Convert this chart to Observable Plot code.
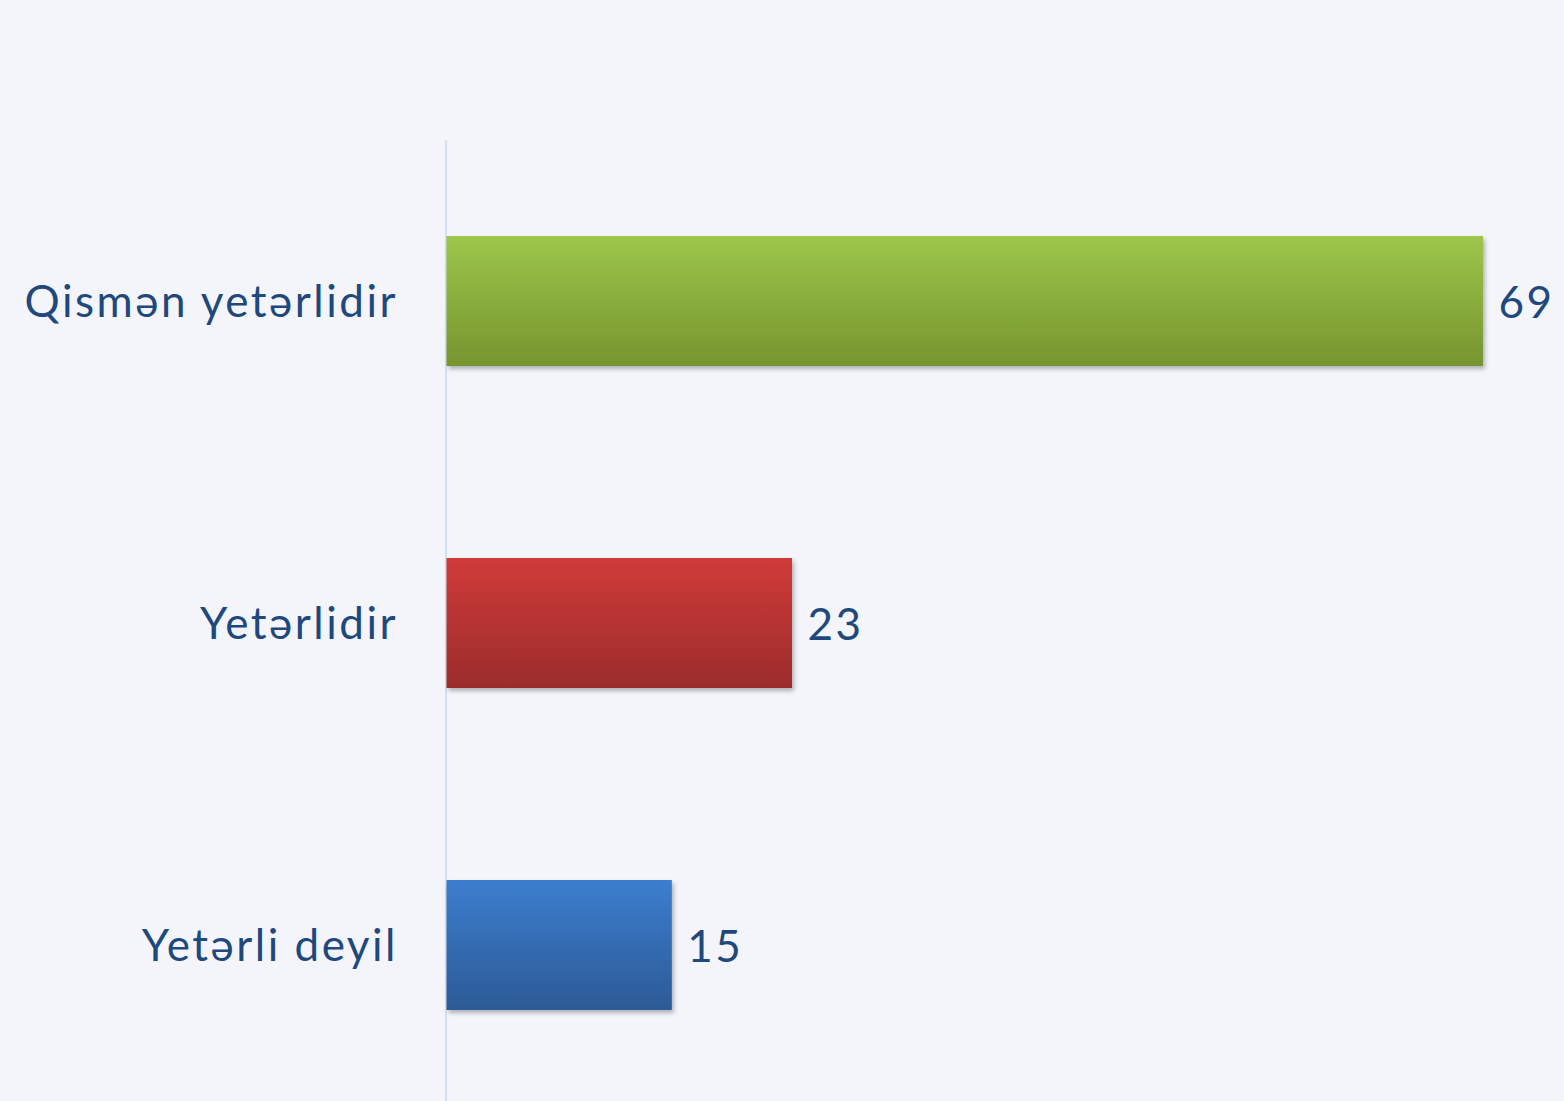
<!DOCTYPE html>
<html><head><meta charset="utf-8">
<script src="https://cdn.jsdelivr.net/npm/d3@7"></script>
<script src="https://cdn.jsdelivr.net/npm/@observablehq/plot@0.6"></script>
<style>
html,body{margin:0;padding:0;background:#f4f5fb;}
#chart svg{display:block;}
g[aria-label="bar"] rect{filter: drop-shadow(2px 3px 2px rgba(0,0,0,0.28));}
g[aria-label="text"] text{letter-spacing: 2.5px;}
</style></head><body><div id="chart"></div>
<script>
const categories = ["Qismən yetərlidir", "Yetərlidir", "Yetərli deyil"];
const values = [69, 23, 15];

const gradientStops = [
  ["#9dc64a", "#76952f"],
  ["#d03b39", "#9b2c2c"],
  ["#3c7ece", "#2c5a96"]
];

const data = categories.map((c, i) => ({category: c, value: values[i], grad: `url(#grad${i})`}));

const defsMark = () => {
  const defs = d3.create("svg:defs");
  gradientStops.forEach(([a, b], i) => {
    const g = defs.append("linearGradient").attr("id", `grad${i}`)
      .attr("x1", 0).attr("y1", 0).attr("x2", 0).attr("y2", 1);
    g.append("stop").attr("offset", "0%").attr("stop-color", a);
    g.append("stop").attr("offset", "100%").attr("stop-color", b);
  });
  return defs.node();
};

const font = "Lato, 'Open Sans', sans-serif";
const textColor = "#1f497d";

const chart = Plot.plot({
  width: 1564,
  height: 1101,
  marginTop: 140,
  marginBottom: 0,
  marginLeft: 0,
  marginRight: 0,
  style: {background: "#f4f5fb", fontFamily: font},
  x: {domain: [0, 69], range: [446.5, 1483], axis: null},
  y: {type: "band", domain: categories, range: [140, 1106], paddingInner: 0.596, paddingOuter: 0.298, axis: null},
  color: {type: "identity"},
  marks: [
    defsMark,
    Plot.ruleX([0], {stroke: "#d3e0f1", strokeWidth: 2, dx: -1}),
    Plot.barX(data, {x: "value", y: "category", fill: "grad"}),
    Plot.text(data, {x: 0, y: "category", text: "category", textAnchor: "end", dx: -49, dy: 1, fontSize: 44, fill: textColor, fontFamily: font}),
    Plot.text(data, {x: "value", y: "category", text: d => String(d.value), textAnchor: "start", dx: 15, dy: 2, fontSize: 44, fill: textColor, fontFamily: font})
  ]
});
document.getElementById("chart").appendChild(chart);
</script>
</body></html>
